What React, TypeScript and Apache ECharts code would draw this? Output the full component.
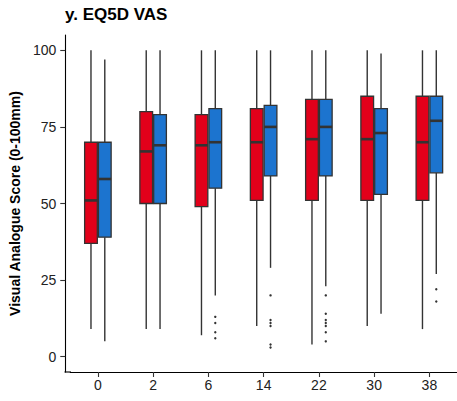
import React, { useEffect, useRef } from "react";
import * as echarts from "echarts";

const weeks = ["0", "2", "6", "14", "22", "30", "38"];
// each box: [lower whisker, Q1, median, Q3, upper whisker]
const redBoxes = [
  [9, 37, 51, 70, 100],
  [9, 50, 67, 80, 100],
  [7, 49, 69, 79, 100],
  [10, 51, 70, 81, 100],
  [4, 51, 71, 84, 100],
  [10, 51, 71, 85, 100],
  [9, 51, 70, 85, 100],
];
const blueBoxes = [
  [5, 39, 58, 70, 97],
  [9, 50, 69, 79, 100],
  [20, 55, 70, 81, 100],
  [29, 59, 75, 82, 100],
  [23, 59, 75, 84, 100],
  [14, 53, 73, 81, 99],
  [27, 60, 77, 85, 100],
];
const redOutliers: number[][] = [[], [], [], [], [], [], []];
const blueOutliers: number[][] = [
  [],
  [],
  [13, 11, 8, 6],
  [20, 12, 11, 10, 4, 3],
  [20, 14, 12, 11, 10, 8, 5],
  [],
  [22, 18],
];
const yTicks = [0, 25, 50, 75, 100];

const RED = "#E2001A";
const BLUE = "#1C74CF";
const EDGE = "#333333";
const FONT = "'Liberation Sans', Arial, sans-serif";

const makeBoxSeries = (name: string, boxes: number[][], color: string, side: number) => ({
  type: "custom",
  name,
  data: boxes.map((b, i) => [i, ...b]),
  encode: { x: 0, y: [1, 2, 3, 4, 5] },
  renderItem: (_params: any, api: any) => {
    const idx = api.value(0);
    const band = api.size([1, 0])[0];
    const cx = api.coord([idx, 0])[0] + side * band * 0.125;
    const w = band * 0.23;
    const yLo = api.coord([idx, api.value(1)])[1];
    const yQ1 = api.coord([idx, api.value(2)])[1];
    const yMed = api.coord([idx, api.value(3)])[1];
    const yQ3 = api.coord([idx, api.value(4)])[1];
    const yHi = api.coord([idx, api.value(5)])[1];
    const lineStyle = { stroke: EDGE, lineWidth: 1.4 };
    return {
      type: "group",
      children: [
        { type: "line", shape: { x1: cx, y1: yQ3, x2: cx, y2: yHi }, style: lineStyle },
        { type: "line", shape: { x1: cx, y1: yQ1, x2: cx, y2: yLo }, style: lineStyle },
        {
          type: "rect",
          shape: { x: cx - w / 2, y: yQ3, width: w, height: yQ1 - yQ3 },
          style: { fill: color, stroke: EDGE, lineWidth: 1.3 },
        },
        {
          type: "line",
          shape: { x1: cx - w / 2, y1: yMed, x2: cx + w / 2, y2: yMed },
          style: { stroke: EDGE, lineWidth: 2.6 },
        },
      ],
    };
  },
});

const makeOutlierSeries = (name: string, outs: number[][], side: number) => ({
  type: "custom",
  name,
  data: outs.flatMap((vals, i) => vals.map((v) => [i, v])),
  encode: { x: 0, y: 1 },
  renderItem: (_params: any, api: any) => {
    const idx = api.value(0);
    const band = api.size([1, 0])[0];
    const p = api.coord([idx, api.value(1)]);
    return {
      type: "circle",
      shape: { cx: p[0] + side * band * 0.125, cy: p[1], r: 1.2 },
      style: { fill: EDGE },
    };
  },
});

export default function App() {
  const ref = useRef<HTMLDivElement>(null);
  useEffect(() => {
    if (!ref.current) return;
    const chart = echarts.init(ref.current, null, { renderer: "svg" });
    chart.setOption({
      animation: false,
      backgroundColor: "#ffffff",
      title: {
        text: "y. EQ5D VAS",
        left: 65,
        top: 6,
        padding: 0,
        textStyle: { fontSize: 17, fontWeight: "bold", color: "#000", fontFamily: FONT },
      },
      grid: { left: 70, right: 0, top: 35, bottom: 29, containLabel: false },
      xAxis: {
        type: "category",
        data: weeks,
        boundaryGap: true,
        axisLine: { show: true, onZero: false, lineStyle: { color: "#000", width: 1.1 } },
        axisTick: { show: true, alignWithLabel: true, length: 5, lineStyle: { color: "#333", width: 1.1 } },
        axisLabel: { color: "#222", fontSize: 14, margin: 6, fontFamily: FONT },
        splitLine: { show: false },
      },
      yAxis: {
        type: "value",
        min: -5,
        max: 105,
        offset: 5,
        name: "Visual Analogue Score (0-100mm)",
        nameLocation: "middle",
        nameGap: 41,
        nameTextStyle: { fontSize: 14, fontWeight: "bold", color: "#000", fontFamily: FONT },
        axisLine: { show: true, onZero: false, lineStyle: { color: "#000", width: 1.1 } },
        axisTick: { show: true, length: 5, customValues: yTicks, lineStyle: { color: "#333", width: 1.1 } },
        axisLabel: { color: "#222", fontSize: 14, margin: 9, customValues: yTicks, fontFamily: FONT },
        splitLine: { show: false },
      },
      graphic: [
        {
          type: "line",
          shape: { x1: 64.5, y1: 372, x2: 71, y2: 372 },
          style: { stroke: "#000", lineWidth: 1.1 },
        },
      ],
      series: [
        makeBoxSeries("Red", redBoxes, RED, -1),
        makeBoxSeries("Blue", blueBoxes, BLUE, 1),
        makeOutlierSeries("Red outliers", redOutliers, -1),
        makeOutlierSeries("Blue outliers", blueOutliers, 1),
      ],
    });
    return () => chart.dispose();
  }, []);
  return (
    <div
      ref={ref}
      style={{ position: "fixed", left: 0, top: 0, width: 457, height: 401 }}
    />
  );
}
